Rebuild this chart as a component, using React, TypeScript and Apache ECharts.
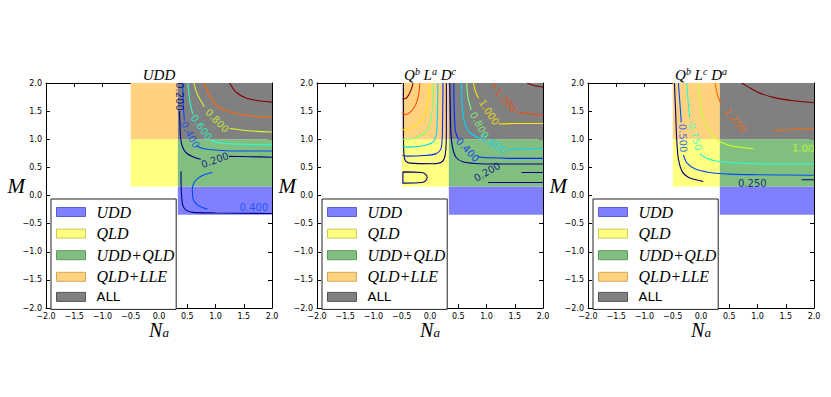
import React, { useEffect, useRef } from 'react';
import * as echarts from 'echarts';

// ---------------- data ----------------
const axisMin = -2;
const axisMax = 2;
const axisStep = 0.5;

const regionNames = ['UDD', 'QLD', 'UDD+QLD', 'QLD+LLE', 'ALL'];
// [x0, y0, x1, y1]
const regionUDD = [0.333, -0.34, 2.0, 0.16];
const regionQLD = [-0.5, 0.16, 0.333, 1.0];
const regionUDDQLD = [0.333, 0.16, 2.0, 1.0];
const regionQLDLLE = [-0.5, 1.0, 0.333, 2.0];
const regionALL = [0.333, 1.0, 2.0, 2.0];

const titleBases = [['UDD'], ['Q', 'L', 'D'], ['Q', 'L', 'D']];
const titleSups = [[''], ['b', 'a', 'c'], ['b', 'c', 'a']];

// ---- panel 1 (UDD) contour levels 0.2 .. 1.2
const p1Levels = [0.2, 0.4, 0.6, 0.8, 1.0, 1.2];
const p1_l02a = [[0.36, 1.5], [0.37, 1.3], [0.38, 1.05], [0.41, 0.88], [0.48, 0.76], [0.62, 0.68], [0.74, 0.645]];
const p1_l02b = [[1.24, 0.695], [1.6, 0.69], [2.0, 0.68]];
const p1_l02c = [[0.39, 0.43], [0.39, 0.2], [0.4, 0.0], [0.42, -0.17], [0.48, -0.26], [0.6, -0.3], [1.0, -0.31], [2.0, -0.32]];
const p1_l04a = [[0.42, 2.0], [0.43, 1.6], [0.45, 1.33]];
const p1_l04b = [[0.66, 0.88], [0.8, 0.83], [1.1, 0.8], [1.5, 0.79], [2.0, 0.79]];
const p1_l04c = [[0.95, 0.41], [0.8, 0.37], [0.66, 0.28], [0.59, 0.12], [0.6, -0.05], [0.67, -0.16], [0.78, -0.22], [0.86, -0.24]];
const p1_l06a = [[0.51, 2.0], [0.55, 1.65], [0.6, 1.44]];
const p1_l06b = [[0.91, 0.98], [1.1, 0.93], [1.5, 0.91], [2.0, 0.9]];
const p1_l08a = [[0.62, 2.0], [0.67, 1.82], [0.8, 1.58]];
const p1_l08b = [[1.25, 1.19], [1.6, 1.15], [2.0, 1.13]];
const p1_l10 = [[0.8, 2.0], [0.88, 1.8], [1.0, 1.62], [1.15, 1.52], [1.4, 1.45], [1.7, 1.41], [2.0, 1.39]];
const p1_l12 = [[1.25, 2.0], [1.36, 1.84], [1.55, 1.73], [1.8, 1.68], [2.0, 1.66]];
const p1LabelText = ['0.200', '0.400', '0.600', '0.800', '0.200', '0.400'];
const p1LabelLevel = [0, 1, 2, 3, 0, 1];
const p1LabelAt = [[0.355, 1.76], [0.55, 1.08], [0.75, 1.21], [1.03, 1.33], [0.99, 0.63], [1.68, -0.22]];

// ---- panel 2 (Q^b L^a D^c) contour levels 0.2 .. 1.4
const p2Levels = [0.2, 0.4, 0.6, 0.8, 1.0, 1.2, 1.4];
const p2_u02 = [[-0.47, 2.0], [-0.47, 1.2], [-0.46, 0.72], [-0.43, 0.61], [-0.35, 0.575], [0.05, 0.565], [0.2, 0.59], [0.26, 0.68], [0.285, 0.9], [0.29, 1.3], [0.29, 2.0]];
const p2_loop = [[-0.48, 0.42], [-0.15, 0.41], [-0.08, 0.38], [-0.05, 0.32], [-0.08, 0.26], [-0.15, 0.23], [-0.48, 0.22], [-0.48, 0.42]];
const p2_u04 = [[-0.49, 0.71], [-0.4, 0.7], [-0.1, 0.71], [0.1, 0.74], [0.19, 0.82], [0.215, 1.0], [0.225, 1.5], [0.23, 2.0]];
const p2_u06 = [[-0.49, 0.87], [-0.4, 0.86], [-0.15, 0.88], [0.05, 0.95], [0.11, 1.08], [0.13, 1.4], [0.14, 2.0]];
const p2_u08 = [[-0.49, 1.0], [-0.4, 1.0], [-0.25, 1.03], [-0.08, 1.12], [0.01, 1.3], [0.045, 1.6], [0.055, 2.0]];
const p2_u10 = [[-0.49, 1.17], [-0.42, 1.17], [-0.3, 1.22], [-0.15, 1.34], [-0.06, 1.55], [-0.02, 1.8], [0.0, 2.0]];
const p2_u12 = [[-0.49, 1.47], [-0.43, 1.44], [-0.33, 1.5], [-0.25, 1.62], [-0.2, 1.8], [-0.18, 2.0]];
const p2_u14 = [[-0.49, 1.72], [-0.44, 1.72], [-0.37, 1.8], [-0.32, 1.92], [-0.3, 2.0]];
const p2_r02a = [[0.35, 2.0], [0.36, 1.5], [0.37, 1.1], [0.4, 0.85], [0.46, 0.68], [0.58, 0.6], [0.8, 0.57], [1.2, 0.56], [2.0, 0.56]];
const p2_r02b = [[1.03, 0.23], [1.5, 0.23], [2.0, 0.23]];
const p2_r02c = [[1.62, 0.41], [2.0, 0.41]];
const p2_r04a = [[0.42, 2.0], [0.43, 1.5], [0.45, 1.15], [0.5, 1.0]];
const p2_r04b = [[0.84, 0.69], [1.05, 0.67], [1.5, 0.66], [2.0, 0.66]];
const p2_r06a = [[0.56, 2.0], [0.57, 1.6], [0.61, 1.3], [0.7, 1.12], [0.88, 1.02]];
const p2_r06b = [[1.38, 0.81], [1.7, 0.83], [2.0, 0.84]];
const p2_r08a = [[0.65, 2.0], [0.67, 1.75], [0.73, 1.52]];
const p2_r10a = [[0.77, 2.0], [0.8, 1.86], [0.86, 1.73]];
const p2_r10b = [[1.22, 1.27], [1.5, 1.28], [2.0, 1.28]];
const p2_r12a = [[1.12, 2.0], [1.17, 1.9]];
const p2_r12b = [[1.55, 1.48], [1.8, 1.45], [2.0, 1.44]];
const p2_r14 = [[1.72, 2.0], [1.85, 1.95], [2.0, 1.93]];
const p2LabelText = ['0.200', '0.400', '0.600', '0.800', '1.000', '1.200'];
const p2LabelLevel = [0, 1, 2, 3, 4, 5];
const p2LabelAt = [[1.01, 0.42], [0.667, 0.81], [1.12, 0.92], [0.873, 1.25], [1.044, 1.48], [1.34, 1.69]];

// ---- panel 3 (Q^b L^c D^a) contour levels 0.25 .. 1.5
const p3Levels = [0.25, 0.5, 0.75, 1.0, 1.25, 1.5];
const p3_l025a = [[-0.47, 2.0], [-0.45, 1.5], [-0.43, 1.0], [-0.4, 0.65], [-0.33, 0.42], [-0.22, 0.32], [-0.05, 0.27], [0.04, 0.25]];
const p3_l025b = [[1.78, 0.28], [2.0, 0.28]];
const p3_l05a = [[-0.4, 2.0], [-0.37, 1.6], [-0.35, 1.3]];
const p3_l05b = [[-0.31, 0.72], [-0.25, 0.58], [-0.1, 0.47], [0.15, 0.41], [0.5, 0.38], [1.0, 0.37], [2.0, 0.36]];
const p3_l075a = [[-0.25, 2.0], [-0.23, 1.7], [-0.2, 1.38]];
const p3_l075b = [[-0.02, 0.74], [0.1, 0.66], [0.3, 0.61], [0.8, 0.57], [1.4, 0.56], [2.0, 0.56]];
const p3_l10 = [[-0.05, 2.0], [-0.02, 1.7], [0.02, 1.45], [0.1, 1.22], [0.2, 1.07], [0.35, 0.95], [0.55, 0.88], [0.93, 0.83]];
const p3_l125a = [[0.25, 2.0], [0.29, 1.8], [0.35, 1.63]];
const p3_l125b = [[1.28, 1.16], [1.6, 1.17], [2.0, 1.19]];
const p3_l15 = [[0.72, 2.0], [0.82, 1.94], [1.04, 1.82], [1.3, 1.74], [1.6, 1.69], [2.0, 1.65]];
const p3LabelText = ['0.250', '0.500', '0.750', '1.00', '1.250'];
const p3LabelLevel = [0, 1, 2, 3, 4];
const p3LabelAt = [[0.908, 0.22], [-0.32, 1.02], [-0.106, 1.045], [1.81, 0.84], [0.607, 1.34]];

// ---------------- styles / layout ----------------
const LEFTS = [46, 317, 588];
const GTOP = 83;
const GW = 226;
const GH = 225;
const jetA = ['#000080', '#004cff', '#29ffce', '#ceff29', '#ff6800', '#800000'];
const jetB = ['#000080', '#002aff', '#00d4ff', '#7cff7a', '#ffe600', '#ff4800', '#800000'];
const regionFill = ['#8080ff', '#ffff80', '#80bf80', '#ffd280', '#808080'];
const regionEdge = ['#5c5cd6', '#c9c95c', '#5a9a5a', '#d2a85c', '#555555'];
const p1Rot = [-90, -62, -55, -46, 20, 0];
const p2Rot = [30, -47, -33, -62, -57, -49];
const p3Rot = [0, -88, -74, -3, -50];

const SERIF = 'Liberation Serif';
const SANS = 'DejaVu Sans';

const fmt = (v: number) => (v < 0 ? '\u2212' : '') + Math.abs(v).toFixed(1);

export default function App() {
  const ref = useRef<HTMLDivElement>(null);
  useEffect(() => {
    if (!ref.current) return;
    const chart = echarts.init(ref.current, undefined, { renderer: 'svg' });
    const regions = [regionUDD, regionQLD, regionUDDQLD, regionQLDLLE, regionALL];

    const panels = [
      {
        levels: p1Levels, colors: jetA,
        segs: [[0, p1_l02a], [0, p1_l02b], [0, p1_l02c], [1, p1_l04a], [1, p1_l04b], [1, p1_l04c], [2, p1_l06a], [2, p1_l06b], [3, p1_l08a], [3, p1_l08b], [4, p1_l10], [5, p1_l12]],
        lt: p1LabelText, ll: p1LabelLevel, la: p1LabelAt, rot: p1Rot,
      },
      {
        levels: p2Levels, colors: jetB,
        segs: [[0, p2_u02], [0, p2_loop], [1, p2_u04], [2, p2_u06], [3, p2_u08], [4, p2_u10], [5, p2_u12], [6, p2_u14],
          [0, p2_r02a], [0, p2_r02b], [0, p2_r02c], [1, p2_r04a], [1, p2_r04b], [2, p2_r06a], [2, p2_r06b], [3, p2_r08a], [4, p2_r10a], [4, p2_r10b], [5, p2_r12a], [5, p2_r12b], [6, p2_r14]],
        lt: p2LabelText, ll: p2LabelLevel, la: p2LabelAt, rot: p2Rot,
      },
      {
        levels: p3Levels, colors: jetA,
        segs: [[0, p3_l025a], [0, p3_l025b], [1, p3_l05a], [1, p3_l05b], [2, p3_l075a], [2, p3_l075b], [3, p3_l10], [4, p3_l125a], [4, p3_l125b], [5, p3_l15]],
        lt: p3LabelText, ll: p3LabelLevel, la: p3LabelAt, rot: p3Rot,
      },
    ];

    const grids: any[] = [];
    const xAxes: any[] = [];
    const yAxes: any[] = [];
    const series: any[] = [];
    const titles: any[] = [];
    const legends: any[] = [];

    const axisBase = {
      type: 'value', min: axisMin, max: axisMax, interval: axisStep,
      axisLine: { show: true, onZero: false, lineStyle: { color: '#000', width: 1 } },
      axisTick: { show: true, inside: true, length: 4, lineStyle: { color: '#000', width: 1 } },
      splitLine: { show: false },
    };
    const labelStyle = { show: true, fontSize: 8, color: '#000', fontFamily: SANS, margin: 4, formatter: fmt, showMinLabel: true, showMaxLabel: true };

    panels.forEach((p, i) => {
      grids.push({ left: LEFTS[i], top: GTOP, width: GW, height: GH, outerBoundsMode: 'none', containLabel: false });
      xAxes[i] = {
        ...axisBase, gridIndex: i, position: 'bottom', axisLabel: labelStyle,
        name: '{n|N}{s|a}', nameLocation: 'middle', nameGap: 13, nameMoveOverlap: false,
        nameTextStyle: {
          rich: {
            n: { fontFamily: SERIF, fontStyle: 'italic', fontWeight: 'normal', fontSize: 20, color: '#000', lineHeight: 18 },
            s: { fontFamily: SERIF, fontStyle: 'italic', fontWeight: 'normal', fontSize: 13, color: '#000', verticalAlign: 'bottom', lineHeight: 11 },
          },
        },
      };
      xAxes[i + 3] = { ...axisBase, gridIndex: i, position: 'top', axisLabel: { show: false } };
      yAxes[i] = {
        ...axisBase, gridIndex: i, position: 'left', axisLabel: labelStyle,
        name: 'M', nameLocation: 'middle', nameRotate: 0, nameGap: 21, nameMoveOverlap: false,
        nameTextStyle: { fontFamily: SERIF, fontStyle: 'italic', fontWeight: 'normal', fontSize: 21, color: '#000', verticalAlign: 'bottom', lineHeight: 20 },
      };
      yAxes[i + 3] = { ...axisBase, gridIndex: i, position: 'right', axisLabel: { show: false } };

      regions.forEach((r, k) => {
        series.push({
          type: 'custom', name: regionNames[k], xAxisIndex: i, yAxisIndex: i, silent: true, z: 1,
          itemStyle: { color: regionFill[k], borderColor: regionEdge[k], borderWidth: 1 },
          encode: { x: [0, 2], y: [1, 3] },
          data: [r],
          renderItem: (params: any, api: any) => {
            const a = api.coord([api.value(0), api.value(3)]);
            const b = api.coord([api.value(2), api.value(1)]);
            return { type: 'rect', shape: { x: a[0], y: a[1], width: b[0] - a[0], height: b[1] - a[1] }, style: { fill: regionFill[k] } };
          },
        });
      });

      p.segs.forEach((s: any) => {
        series.push({
          type: 'line', xAxisIndex: i, yAxisIndex: i, data: s[1], showSymbol: false, symbol: 'none',
          smooth: 0.3, silent: true, z: 3, lineStyle: { color: p.colors[s[0]], width: 1.1 },
        });
      });

      series.push({
        type: 'scatter', xAxisIndex: i, yAxisIndex: i, symbolSize: 1, silent: true, z: 5,
        itemStyle: { color: 'rgba(0,0,0,0)' },
        label: { show: true, position: 'inside', fontSize: 10, fontFamily: SANS },
        data: p.la.map((pt: number[], j: number) => ({
          value: pt,
          label: { formatter: p.lt[j], rotate: p.rot[j], color: p.colors[p.ll[j]] },
        })),
      });

      const bases = titleBases[i];
      const sups = titleSups[i];
      const ttext = bases.map((b, j) => `{m|${j > 0 ? ' ' : ''}${b}}` + (sups[j] ? `{u|${sups[j]}}` : '')).join('');
      titles.push({
        text: ttext, left: LEFTS[i] + GW / 2, top: 66, textAlign: 'center', padding: 0,
        textStyle: {
          fontWeight: 'normal',
          rich: {
            m: { fontFamily: SERIF, fontStyle: 'italic', fontWeight: 'normal', fontSize: 15, color: '#000', lineHeight: 18 },
            u: { fontFamily: SERIF, fontStyle: 'italic', fontWeight: 'normal', fontSize: 10, color: '#000', verticalAlign: 'top', lineHeight: 10 },
          },
        },
      });

      legends.push({
        orient: 'vertical', left: LEFTS[i] + 5, top: 199, selectedMode: false,
        itemWidth: 29, itemHeight: 9, itemGap: 5.6, padding: [5, 2, 6, 5],
        backgroundColor: '#fff', borderColor: '#222', borderWidth: 1, borderRadius: 0,
        icon: 'rect',
        data: regionNames.map((n, k) => ({ name: n, icon: 'rect', itemStyle: { color: regionFill[k], borderColor: regionEdge[k], borderWidth: 1 } })),
        formatter: (name: string) => {
          if (name === 'ALL') return '{s|ALL}';
          return name.split('+').map((part, j) => (j === 0 ? '{f|' : '{i|') + part + '}').join('{p|+}');
        },
        textStyle: {
          color: '#000',
          rich: {
            f: { fontFamily: SERIF, fontStyle: 'italic', fontSize: 16, lineHeight: 14, padding: [0, 0, 0, 6] },
            i: { fontFamily: SERIF, fontStyle: 'italic', fontSize: 16, lineHeight: 14 },
            p: { fontFamily: SERIF, fontSize: 16, lineHeight: 14, padding: [0, 1, 0, 1] },
            s: { fontFamily: SANS, fontSize: 13, lineHeight: 14, padding: [0, 0, 0, 6] },
          },
        },
      });
    });

    chart.setOption({
      animation: false,
      backgroundColor: '#fff',
      title: titles,
      legend: legends,
      grid: grids,
      xAxis: xAxes,
      yAxis: yAxes,
      series,
    });
    return () => chart.dispose();
  }, []);
  return <div ref={ref} style={{ position: 'fixed', left: 0, top: 0, width: 831, height: 397, background: '#fff' }} />;
}
